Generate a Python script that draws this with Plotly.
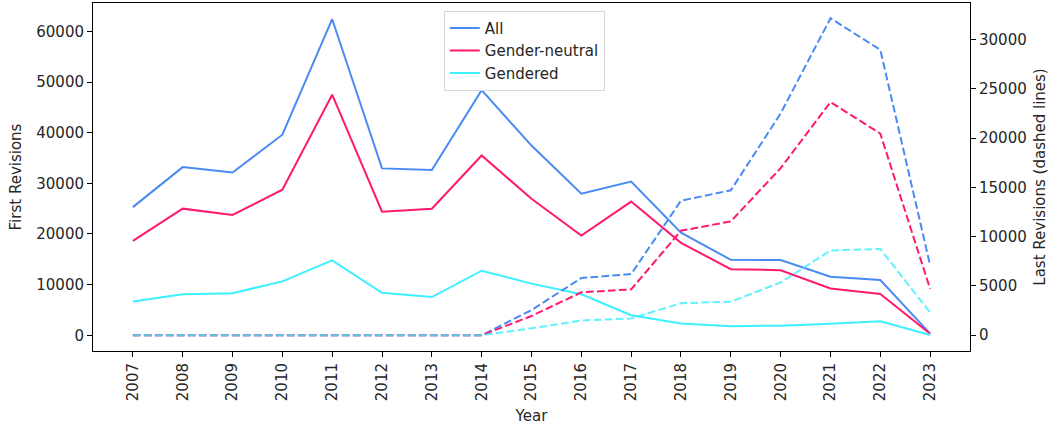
import plotly.graph_objects as go

years = list(range(2007, 2024))
year_labels = [str(y) for y in years]

first_all = [25300, 33200, 32150, 39600, 62400, 32950, 32650, 48400, 37450, 27950, 30350,
             20250, 14900, 14850, 11550, 10900, 330]
first_neutral = [18650, 25000, 23750, 28750, 47500, 24400, 25000, 35500, 26950, 19700, 26400,
                 18250, 13050, 12850, 9250, 8150, 300]
first_gendered = [6650, 8100, 8300, 10650, 14800, 8400, 7550, 12750, 10200, 8100, 3950,
                  2350, 1800, 1900, 2300, 2750, 50]

last_all = [0, 0, 0, 0, 0, 0, 0, 0, 2550, 5800, 6200, 13650, 14700, 22500, 32150, 28950, 7100]
last_neutral = [0, 0, 0, 0, 0, 0, 0, 0, 1950, 4350, 4650, 10600, 11550, 16950, 23650, 20450, 4700]
last_gendered = [0, 0, 0, 0, 0, 0, 0, 0, 700, 1500, 1700, 3250, 3400, 5350, 8600, 8750, 2300]

names = ["All", "Gender-neutral", "Gendered"]
colors = ["#4a8af4", "#ff1a70", "#3cf0ff"]
dash_opacity = [1.0, 1.0, 0.8]

fig = go.Figure()
for name, vals, col in zip(names, [first_all, first_neutral, first_gendered], colors):
    fig.add_trace(go.Scatter(x=years, y=vals, mode="lines", name=name,
                             line=dict(color=col, width=2)))
for name, vals, col, op in zip(names, [last_all, last_neutral, last_gendered], colors, dash_opacity):
    fig.add_trace(go.Scatter(x=years, y=vals, mode="lines", name=name + " (last)",
                             line=dict(color=col, width=2, dash="7.7px,3.3px"),
                             opacity=op, yaxis="y2", showlegend=False))

font = dict(family="DejaVu Sans", size=15, color="#262626")
fig.update_layout(
    width=1054, height=428,
    margin=dict(l=93, r=84, t=3, b=77),
    paper_bgcolor="white", plot_bgcolor="white",
    font=font,
    showlegend=True,
    legend=dict(x=0.4, y=0.978, xanchor="left", yanchor="top",
                bgcolor="white", bordercolor="#d6d6d6", borderwidth=1,
                font=dict(family="DejaVu Sans", size=15, color="#262626"),
                tracegroupgap=0),
    xaxis=dict(range=[2006.2, 2023.8], tickmode="array", tickvals=years, ticktext=year_labels,
               tickangle=-90, ticks="outside", ticklen=5, tickcolor="black",
               showline=True, linecolor="black", linewidth=1, mirror=True,
               showgrid=False, zeroline=False, automargin=False,
               title=dict(text="Year", standoff=10, font=font)),
    yaxis=dict(range=[-3100, 65600], tickmode="array",
               tickvals=[0, 10000, 20000, 30000, 40000, 50000, 60000],
               ticktext=["0", "10000", "20000", "30000", "40000", "50000", "60000"],
               ticks="outside", ticklen=5, tickcolor="black",
               showline=True, linecolor="black", linewidth=1,
               showgrid=False, zeroline=False, automargin=False,
               title=dict(text="First Revisions", standoff=11, font=font)),
    yaxis2=dict(range=[-1600, 33700], overlaying="y", side="right", tickmode="array",
                tickvals=[0, 5000, 10000, 15000, 20000, 25000, 30000],
                ticktext=["0", "5000", "10000", "15000", "20000", "25000", "30000"],
                ticks="outside", ticklen=5, tickcolor="black",
                showline=True, linecolor="black", linewidth=1,
                showgrid=False, zeroline=False, automargin=False,
                title=dict(text="Last Revisions (dashed lines)", standoff=8, font=font)),
)

fig.write_html("out.html", config={"displayModeBar": False},
               post_script="document.body.style.margin='0';document.body.style.overflow='hidden';")
